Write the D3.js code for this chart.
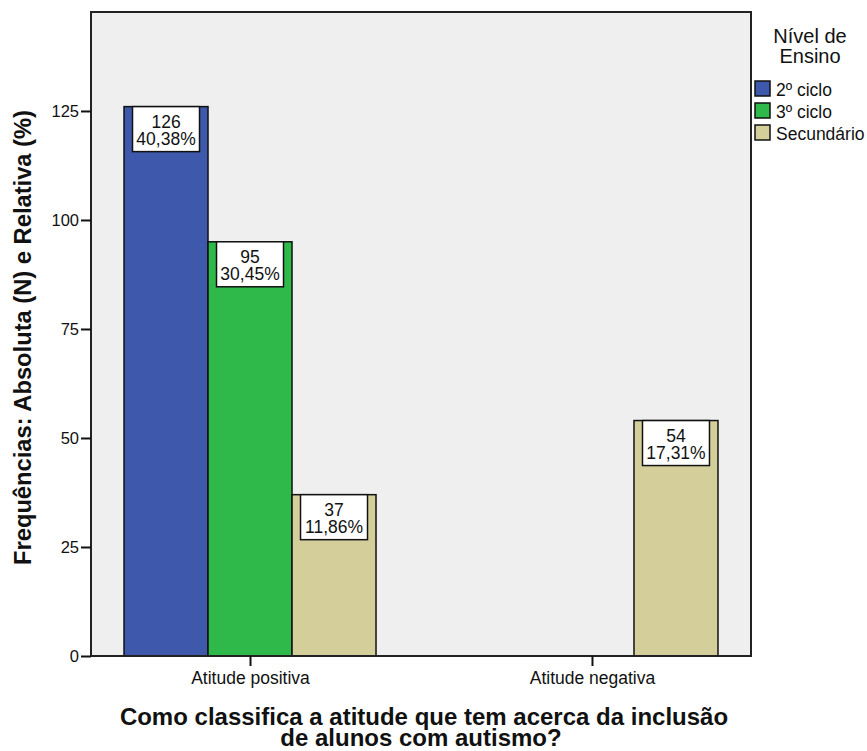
<!DOCTYPE html>
<html>
<head>
<meta charset="utf-8">
<script src="https://cdn.jsdelivr.net/npm/d3@7"></script>
<style>
  html, body { margin: 0; padding: 0; background: #ffffff; }
  svg { display: block; font-family: "Liberation Sans", Arial, sans-serif; }
</style>
</head>
<body>
<svg id="chart" width="867" height="751"></svg>
<script>
// Attitude categories and school levels
const categories = ["Atitude positiva", "Atitude negativa"];
const levels = ["2º ciclo", "3º ciclo", "Secundário"];
const levelColors = ["#3e58ab", "#2fb94a", "#d4cf9a"];

// Counts per category, in the order of `levels` (null = no bar)
const countsPositiva = [126, 95, 37];
const countsNegativa = [null, null, 54];
const pctPositiva = ["40,38%", "30,45%", "11,86%"];
const pctNegativa = [null, null, "17,31%"];

const yTicks = [0, 25, 50, 75, 100, 125];

const rows = [
  { cat: categories[0], counts: countsPositiva, pcts: pctPositiva },
  { cat: categories[1], counts: countsNegativa, pcts: pctNegativa }
];

const FONT = "'Liberation Sans', Arial, sans-serif";
const svg = d3.select("#chart");
const plot = { left: 91, right: 751, top: 12, bottom: 656 };

const x = d3.scalePoint().domain(categories).range([plot.left, plot.right]).padding(0.465);
const xSub = d3.scaleBand().domain(levels).range([-126, 126]).padding(0);
const y = d3.scaleLinear().domain([0, 147.7]).range([plot.bottom, plot.top]);

// Plot background
svg.append("rect")
  .attr("x", plot.left).attr("y", plot.top)
  .attr("width", plot.right - plot.left).attr("height", plot.bottom - plot.top)
  .attr("fill", "#efefef");

// Bars
const bars = [];
rows.forEach(r => r.counts.forEach((v, i) => {
  if (v != null) bars.push({ cat: r.cat, level: levels[i], color: levelColors[i], value: v, pct: r.pcts[i] });
}));

const g = svg.append("g");
g.selectAll("rect.bar").data(bars).join("rect")
  .attr("class", "bar")
  .attr("x", d => x(d.cat) + xSub(d.level))
  .attr("y", d => y(d.value))
  .attr("width", xSub.bandwidth())
  .attr("height", d => y(0) - y(d.value))
  .attr("fill", d => d.color)
  .attr("stroke", "#111")
  .attr("stroke-width", 1.5);

// Value labels: boxed count and percentage
const boxW = 67, boxH = 45;
const lbl = g.selectAll("g.lbl").data(bars).join("g")
  .attr("class", "lbl")
  .attr("transform", d => `translate(${x(d.cat) + xSub(d.level) + xSub.bandwidth() / 2},${y(d.value)})`);
lbl.append("rect")
  .attr("x", -boxW / 2).attr("y", 0)
  .attr("width", boxW).attr("height", boxH)
  .attr("fill", "#fff").attr("stroke", "#111").attr("stroke-width", 1.5);
const lblText = lbl.append("text")
  .attr("text-anchor", "middle")
  .attr("font-size", 17.5).attr("fill", "#111");
lblText.append("tspan").attr("x", 0).attr("y", 21).text(d => d.value);
lblText.append("tspan").attr("x", 0).attr("y", 38.5).text(d => d.pct);

// Frame
svg.append("rect")
  .attr("x", plot.left).attr("y", plot.top)
  .attr("width", plot.right - plot.left).attr("height", plot.bottom - plot.top)
  .attr("fill", "none").attr("stroke", "#222").attr("stroke-width", 2);

// Y axis
const yAxis = svg.append("g")
  .attr("transform", `translate(${plot.left},0)`)
  .call(d3.axisLeft(y).tickValues(yTicks).tickSize(10).tickPadding(2).tickFormat(d3.format("d")));
yAxis.select(".domain").remove();
yAxis.selectAll(".tick line").attr("stroke", "#111").attr("stroke-width", 2);
yAxis.selectAll(".tick text").attr("font-size", 16.5).attr("fill", "#111").attr("font-family", FONT);

// X axis
const xAxis = svg.append("g")
  .attr("transform", `translate(0,${plot.bottom})`)
  .call(d3.axisBottom(x).tickSize(10).tickPadding(0));
xAxis.select(".domain").remove();
xAxis.selectAll(".tick line").attr("stroke", "#111").attr("stroke-width", 2);
xAxis.selectAll(".tick text").attr("font-size", 17.5).attr("fill", "#111").attr("font-family", FONT)
  .attr("y", 28).attr("dy", 0);

// Axis titles
svg.append("text")
  .attr("transform", "translate(31,337.5) rotate(-90)")
  .attr("text-anchor", "middle")
  .attr("font-size", 24).attr("font-weight", "bold").attr("fill", "#111")
  .attr("textLength", 455).attr("lengthAdjust", "spacingAndGlyphs")
  .text("Frequências: Absoluta (N) e Relativa (%)");

const xTitle = svg.append("text")
  .attr("text-anchor", "middle")
  .attr("font-size", 24).attr("font-weight", "bold").attr("fill", "#111");
xTitle.append("tspan").attr("x", 424).attr("y", 725)
  .text("Como classifica a atitude que tem acerca da inclusão");
xTitle.append("tspan").attr("x", 421).attr("y", 746)
  .text("de alunos com autismo?");

// Legend
const legend = svg.append("g");
const legendTitle = legend.append("text").attr("text-anchor", "middle")
  .attr("font-size", 20).attr("fill", "#111");
legendTitle.append("tspan").attr("x", 810).attr("y", 43).text("Nível de");
legendTitle.append("tspan").attr("x", 810).attr("y", 63).text("Ensino");
const items = legend.selectAll("g.item").data(levels).join("g")
  .attr("class", "item")
  .attr("transform", (d, i) => `translate(755,${81 + i * 22})`);
items.append("rect")
  .attr("width", 15).attr("height", 15)
  .attr("fill", (d, i) => levelColors[i])
  .attr("stroke", "#111").attr("stroke-width", 1.5);
items.append("text")
  .attr("x", 21).attr("y", 15)
  .attr("font-size", 17.5).attr("fill", "#111")
  .text(d => d);
</script>
</body>
</html>
